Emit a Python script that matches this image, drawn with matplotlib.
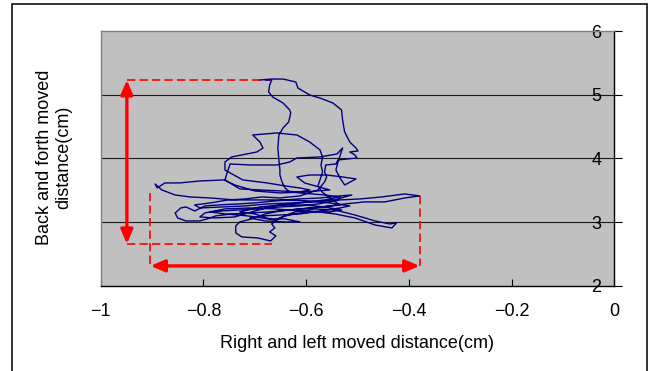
import numpy as np
import matplotlib
matplotlib.use("Agg")
import matplotlib.pyplot as plt
from matplotlib.patches import FancyArrowPatch, Rectangle

plt.rcParams['font.family'] = ['Liberation Sans', 'DejaVu Sans']

# trajectory (cm)
path_x = [-0.690, -0.667, -0.645, -0.620, -0.616, -0.593, -0.573, -0.548, -0.531, -0.529,
          -0.525, -0.515, -0.503, -0.499, -0.515, -0.505, -0.501, -0.519, -0.538, -0.542,
          -0.562, -0.564, -0.560, -0.564, -0.577, -0.612, -0.651, -0.686, -0.719, -0.752,
          -0.787, -0.817, -0.807, -0.764, -0.719, -0.675, -0.628, -0.583, -0.544, -0.525,
          -0.511, -0.534, -0.573, -0.616, -0.661, -0.700, -0.733, -0.772, -0.797, -0.817,
          -0.834, -0.844, -0.855, -0.850, -0.834, -0.807, -0.793, -0.776, -0.745, -0.710,
          -0.671, -0.632, -0.589, -0.554, -0.525, -0.505, -0.486, -0.447, -0.408, -0.379,
          -0.408, -0.453, -0.496, -0.534, -0.577, -0.612, -0.651, -0.694, -0.729, -0.764,
          -0.787, -0.758, -0.713, -0.686, -0.661, -0.641, -0.612, -0.577, -0.544, -0.505,
          -0.466, -0.433, -0.424, -0.437, -0.466, -0.505, -0.544, -0.583, -0.622, -0.651,
          -0.667, -0.661, -0.671, -0.659, -0.669, -0.694, -0.725, -0.737, -0.737, -0.729,
          -0.706, -0.680, -0.651, -0.612, -0.569, -0.534, -0.554, -0.569, -0.577, -0.573,
          -0.568, -0.571, -0.568, -0.573, -0.593, -0.618, -0.657, -0.704, -0.690, -0.684,
          -0.696, -0.745, -0.758, -0.758, -0.748, -0.723, -0.676, -0.641, -0.612, -0.593,
          -0.612, -0.651, -0.690, -0.729, -0.758, -0.754, -0.748, -0.710, -0.657, -0.632,
          -0.618, -0.573, -0.540, -0.529, -0.538, -0.542, -0.534, -0.525, -0.503, -0.529,
          -0.560, -0.593, -0.618, -0.603, -0.554, -0.603, -0.651, -0.700, -0.739, -0.760,
          -0.807, -0.846, -0.875, -0.890, -0.894, -0.881, -0.855, -0.826, -0.787, -0.739,
          -0.690, -0.641, -0.593, -0.554, -0.515, -0.534, -0.573, -0.612, -0.651, -0.686,
          -0.710, -0.680, -0.641, -0.612, -0.641, -0.671, -0.700, -0.729, -0.690, -0.651,
          -0.603, -0.564, -0.531, -0.554, -0.612, -0.661, -0.710, -0.758, -0.797, -0.807,
          -0.778, -0.739, -0.700, -0.661, -0.612, -0.564, -0.534, -0.564, -0.612, -0.632,
          -0.641, -0.647, -0.651, -0.651, -0.653, -0.655, -0.653, -0.645, -0.634, -0.630,
          -0.632, -0.645, -0.665, -0.673, -0.671, -0.667, -0.678]
path_y = [5.231, 5.246, 5.246, 5.199, 5.105, 4.995, 4.948, 4.870, 4.760, 4.603,
          4.414, 4.257, 4.163, 4.116, 4.100, 4.053, 4.006, 3.991, 3.975, 3.912,
          3.896, 3.786, 3.708, 3.630, 3.504, 3.410, 3.378, 3.394, 3.362, 3.347,
          3.300, 3.268, 3.221, 3.237, 3.253, 3.284, 3.300, 3.316, 3.347, 3.394,
          3.425, 3.410, 3.378, 3.362, 3.331, 3.300, 3.284, 3.268, 3.253, 3.174,
          3.237, 3.221, 3.143, 3.064, 3.017, 3.017, 3.049, 3.096, 3.127, 3.143,
          3.159, 3.190, 3.221, 3.253, 3.284, 3.300, 3.316, 3.316, 3.378, 3.410,
          3.441, 3.394, 3.362, 3.347, 3.284, 3.253, 3.237, 3.206, 3.190, 3.174,
          3.159, 3.127, 3.096, 3.064, 3.033, 3.096, 3.143, 3.159, 3.127, 3.064,
          2.954, 2.907, 2.986, 2.970, 3.017, 3.111, 3.190, 3.206, 3.159, 3.064,
          2.970, 2.907, 2.845, 2.782, 2.703, 2.750, 2.766, 2.829, 2.939, 3.002,
          3.049, 3.127, 3.174, 3.206, 3.237, 3.268, 3.378, 3.473, 3.567, 3.661,
          3.786, 3.896, 4.022, 4.132, 4.257, 4.367, 4.399, 4.367, 4.257, 4.163,
          4.100, 4.022, 3.943, 3.818, 3.771, 3.661, 3.614, 3.567, 3.535, 3.504,
          3.473, 3.488, 3.504, 3.520, 3.661, 3.771, 3.912, 3.896, 3.896, 3.943,
          4.006, 4.022, 4.069, 4.163, 3.943, 3.818, 3.692, 3.582, 3.677, 3.708,
          3.739, 3.739, 3.708, 3.614, 3.504, 3.473, 3.457, 3.488, 3.582, 3.661,
          3.645, 3.614, 3.614, 3.535, 3.598, 3.504, 3.425, 3.394, 3.378, 3.347,
          3.347, 3.347, 3.331, 3.300, 3.253, 3.221, 3.174, 3.127, 3.111, 3.096,
          3.064, 3.017, 3.002, 3.002, 3.049, 3.049, 3.127, 3.159, 3.237, 3.268,
          3.268, 3.237, 3.190, 3.159, 3.174, 3.206, 3.221, 3.206, 3.143, 3.080,
          3.064, 3.080, 3.174, 3.253, 3.300, 3.347, 3.394, 3.425, 3.457, 3.473,
          3.535, 3.630, 3.739, 3.818, 3.975, 4.163, 4.367, 4.477, 4.571, 4.713,
          4.760, 4.870, 4.964, 5.042, 5.152, 5.231, 5.231]

x_ticks = [-1, -0.8, -0.6, -0.4, -0.2, 0]
x_ticklabels = ['\u22121', '\u22120.8', '\u22120.6', '\u22120.4', '\u22120.2', '0']
y_ticks = [2, 3, 4, 5, 6]

# red range markers
v_range_x = -0.949
v_range_y = [2.656, 5.231]
v_dash_end_x = -0.667
h_range_y = 2.311
h_range_x = [-0.903, -0.379]
h_dash_top_y = [3.462, 3.414]

fig = plt.figure(figsize=(6.52, 3.71), dpi=100)
ax = fig.add_axes([0.1544, 0.2299, 0.7878, 0.6865])
ax.set_facecolor('#c0c0c0')

ax.set_xlim(-1, 0)
ax.set_ylim(2, 6)
for g in [3, 4, 5]:
    ax.axhline(g, color='#1a1a1a', lw=0.8, zorder=1)

ax.plot(path_x, path_y, color='#000080', lw=1.0, zorder=3)

red = '#ff0000'
dash = (0, (5, 2.5))
ax.plot([v_range_x, v_dash_end_x], [v_range_y[1], v_range_y[1]], color=red, lw=1.2, ls=dash, zorder=2)
ax.plot([v_range_x, v_dash_end_x], [v_range_y[0], v_range_y[0]], color=red, lw=1.2, ls=dash, zorder=2)
ax.plot([h_range_x[0], h_range_x[0]], [h_dash_top_y[0], h_range_y], color=red, lw=1.2, ls=dash, zorder=2)
ax.plot([h_range_x[1], h_range_x[1]], [h_dash_top_y[1], h_range_y], color=red, lw=1.2, ls=dash, zorder=2)

style = '<|-|>,head_length=0.42,head_width=0.18'
ax.add_patch(FancyArrowPatch((v_range_x, v_range_y[0]), (v_range_x, v_range_y[1]),
                             arrowstyle=style, mutation_scale=20, color=red, lw=2.4,
                             shrinkA=0, shrinkB=0, zorder=4))
ax.add_patch(FancyArrowPatch((h_range_x[0], h_range_y), (h_range_x[1], h_range_y),
                             arrowstyle=style, mutation_scale=20, color=red, lw=2.4,
                             shrinkA=0, shrinkB=0, zorder=4))

for s in ['top', 'left']:
    ax.spines[s].set_color('#808080')
    ax.spines[s].set_linewidth(1.0)
for s in ['bottom', 'right']:
    ax.spines[s].set_color('black')
    ax.spines[s].set_linewidth(1.0)

ax.set_xticks(x_ticks)
ax.set_xticklabels(x_ticklabels)
ax.tick_params(axis='x', direction='in', length=5, width=0.8, pad=12.5, labelsize=13)
ax.set_yticks(y_ticks)
ax.yaxis.tick_right()
ax.tick_params(axis='y', direction='out', length=5.5, width=0.8, pad=-22, labelsize=13)

fig.text(357.5 / 652, 1 - 343 / 371, 'Right and left moved distance(cm)',
         ha='center', va='center', fontsize=13)
fig.text(54 / 652, 1 - 157.5 / 371, 'Back and forth moved\ndistance(cm)',
         ha='center', va='center', rotation=90, fontsize=13, linespacing=1.15,
         multialignment='center')

fig.patches.append(Rectangle((12 / 652, -0.05), 635 / 652, 1.05 - 3.5 / 371,
                             transform=fig.transFigure, fill=False,
                             edgecolor='#222222', lw=1.3))

fig.savefig('out.png', dpi=100)
